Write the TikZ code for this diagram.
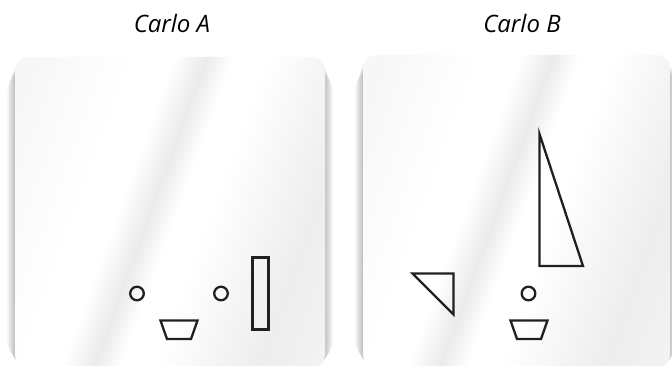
\documentclass[tikz,border=0pt]{standalone}
\usepackage{fontspec}
\setmainfont{Open Sans}
\usetikzlibrary{calc}
\definecolor{ink}{HTML}{231F20}
\pgfdeclarehorizontalshading{gloss}{100bp}{
  color(0bp)=(black!5);
  color(22bp)=(black!3);
  color(36bp)=(white);
  color(42bp)=(white);
  color(47bp)=(black!8);
  color(51bp)=(white);
  color(56bp)=(white);
  color(72bp)=(black!7);
  color(86bp)=(black!4);
  color(100bp)=(black!6)}
\tikzset{
  shape line/.style={draw=ink, line width=2.3pt, line join=miter},
  title/.style={font=\itshape\fontsize{24}{28}\selectfont, text=black, inner sep=0pt, anchor=base},
  panel/.style={rounded corners=13pt, shading=gloss, shading angle=-20},
}
\newcommand{\panelshadow}[4]{%
  \foreach \k in {1,...,10}{
    \fill[black, opacity=0.022, rounded corners=13pt+\k pt]
      ($(#1,#2)+(-\k*0.8pt,-\k*1.3pt)$) rectangle ($(#3,#4)+(\k*0.8pt,\k*0.5pt)$);
  }}
\begin{document}
\begin{tikzpicture}[x=1pt,y=-1pt]
\useasboundingbox (0,0) rectangle (672,366);
\fill[white] (0,0) rectangle (672,366);
% shadows
\panelshadow{15}{57}{325}{368}
\panelshadow{363}{55}{670}{368}
% panels
\path[panel] (15,57) rectangle (325,368);
\path[panel] (363,55) rectangle (670,368);
% titles
\node[title] (ta) at (172,32.3) {Carlo A};
\node[title] (tb) at (522,32.3) {Carlo B};
% Carlo A shapes
\draw[shape line] (137,293.5) circle (6.8);
\draw[shape line] (221,293.5) circle (6.8);
\draw[shape line] (252.5,257.5) rectangle (268.5,329.5);
\draw[shape line] (160.5,320.5) -- (197.5,320.5) -- (191,339) -- (167,339) -- cycle;
% Carlo B shapes
\draw[shape line] (539.5,134) -- (539.5,266) -- (583,266) -- cycle;
\draw[shape line] (412.5,273.5) -- (453.5,273.5) -- (453.5,314.5) -- cycle;
\draw[shape line] (528.5,293.5) circle (6.8);
\draw[shape line] (510.5,320.5) -- (547.5,320.5) -- (541,339) -- (517,339) -- cycle;
\end{tikzpicture}
\end{document}
